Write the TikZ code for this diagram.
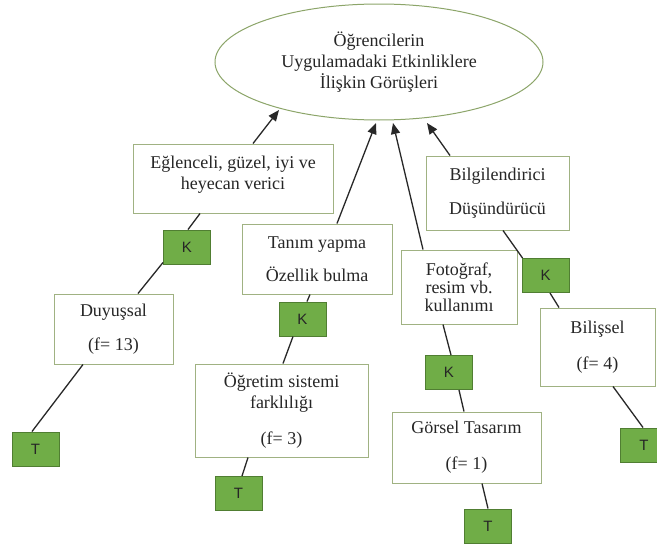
\documentclass[tikz,border=0pt]{standalone}
\usepackage{fontspec}
\setmainfont{Liberation Serif}
\newfontfamily\sansK{Liberation Sans}
\usetikzlibrary{arrows.meta,calc,shapes.geometric}
\definecolor{boxline}{RGB}{160,178,130}
\definecolor{ellline}{RGB}{140,165,105}
\definecolor{kfill}{RGB}{112,173,71}
\definecolor{kline}{RGB}{80,126,50}
\definecolor{conncol}{RGB}{40,40,40}
\tikzset{
  txtbox/.style={draw=boxline, line width=1pt, fill=white, align=center,
    font=\fontsize{18}{21}\selectfont, inner sep=2pt, text=black!85},
  kbox/.style={draw=kline, line width=1pt, fill=kfill, minimum width=47pt,
    minimum height=34pt, inner sep=0pt, font=\sansK\fontsize{15}{17}\selectfont, text=black!85},
  ellnode/.style={ellipse, draw=ellline, line width=1pt, fill=white, align=center,
    minimum width=328pt, minimum height=116pt, inner sep=0pt,
    font=\fontsize{18}{21}\selectfont, text=black!85},
  conn/.style={draw=conncol, line width=1.3pt},
  arr/.style={conn, -{Triangle[length=11pt,width=9pt]}}
}
\begin{document}
\begin{tikzpicture}[x=1pt,y=-1pt]
\useasboundingbox (0,0) rectangle (657,546);
\clip (0,0) rectangle (657,546);
\fill[white] (0,0) rectangle (657,546);

\node[ellnode] (ell) at (379,62) {Öğrencilerin\\Uygulamadaki Etkinliklere\\İlişkin Görüşleri};

\node[txtbox, minimum width=200pt, minimum height=69pt] (egl) at (233,178.5) {Eğlenceli, güzel, iyi ve\\heyecan verici\\[-9pt]\mbox{}};
\node[txtbox, minimum width=150pt, minimum height=70pt] (tan) at (317,259) {Tanım yapma\\[12pt]Özellik bulma};
\node[txtbox, minimum width=119pt, minimum height=70pt] (duy) at (113.5,329) {Duyuşsal\\[13pt](f= 13)};
\node[txtbox, minimum width=173pt, minimum height=93pt] (ogr) at (281.5,410.5) {Öğretim sistemi\\farklılığı\\[15pt](f= 3)};
\node[txtbox, minimum width=143pt, minimum height=74pt] (bilg) at (497.5,193) {Bilgilendirici\\[13pt]Düşündürücü};
\node[txtbox, minimum width=116pt, minimum height=74pt, font=\fontsize{18}{18}\selectfont] (foto) at (459,287) {Fotoğraf,\\resim vb.\\kullanımı};
\node[txtbox, minimum width=115pt, minimum height=78pt] (bil) at (597.5,347) {Bilişsel\\[15pt](f= 4)};
\node[txtbox, minimum width=149pt, minimum height=71pt] (gor) at (466.5,447.5) {Görsel Tasarım\\[15pt](f= 1)};

\node[kbox] (k1) at (187,247) {K};
\node[kbox] (k2) at (302.5,319) {K};
\node[kbox] (k3) at (545.5,275.5) {K};
\node[kbox] (k4) at (449,372.5) {K};

\node[kbox] (t1) at (35.5,449) {T};
\node[kbox] (t2) at (238.5,493.5) {T};
\node[kbox] (t3) at (488,526) {T};
\node[kbox] (t4) at (644,445) {T};

% arrows into the ellipse
\draw[arr] ($(egl.north)+(20,0)$) -- ($(ell.center)+(-100,48)$);
\draw[arr] ($(tan.north)+(20,0)$) -- ($(ell.center)+(-3,61)$);
\draw[arr] ($(foto.north)+(-36,0)$) -- ($(ell.center)+(14,61)$);
\draw[arr] ($(bilg.north)+(-47.5,0)$) -- ($(ell.center)+(48,61)$);

% plain connectors
\draw[conn] ($(egl.south)+(-33,0)$) -- ($(k1.north)+(1,0)$);
\draw[conn] ($(k1.south west)+(0,-2)$) -- ($(duy.north)+(24.5,0)$);
\draw[conn] ($(duy.south)+(-30.5,0)$) -- ($(t1.north)+(-3.5,0)$);
\draw[conn] ($(tan.south)+(-7,0)$) -- ($(k2.north)+(4.5,0)$);
\draw[conn] ($(k2.south)+(-9.5,0)$) -- ($(ogr.north)+(1.5,0)$);
\draw[conn] ($(ogr.south)+(-33.5,0)$) -- ($(t2.north)+(3.5,0)$);
\draw[conn] ($(bilg.south)+(5.5,0)$) -- ($(k3.north west)+(1,0)$);
\draw[conn] ($(k3.south)+(4.5,0)$) -- ($(bil.north)+(-38.5,0)$);
\draw[conn] ($(foto.south)+(-16,0)$) -- ($(k4.north)+(2,0)$);
\draw[conn] ($(k4.south)+(10,0)$) -- ($(gor.north)+(-2.5,0)$);
\draw[conn] ($(gor.south)+(15.5,0)$) -- (t3.north);
\draw[conn] ($(bil.south)+(15.5,0)$) -- ($(t4.north)+(-1,0)$);
\end{tikzpicture}
\end{document}
